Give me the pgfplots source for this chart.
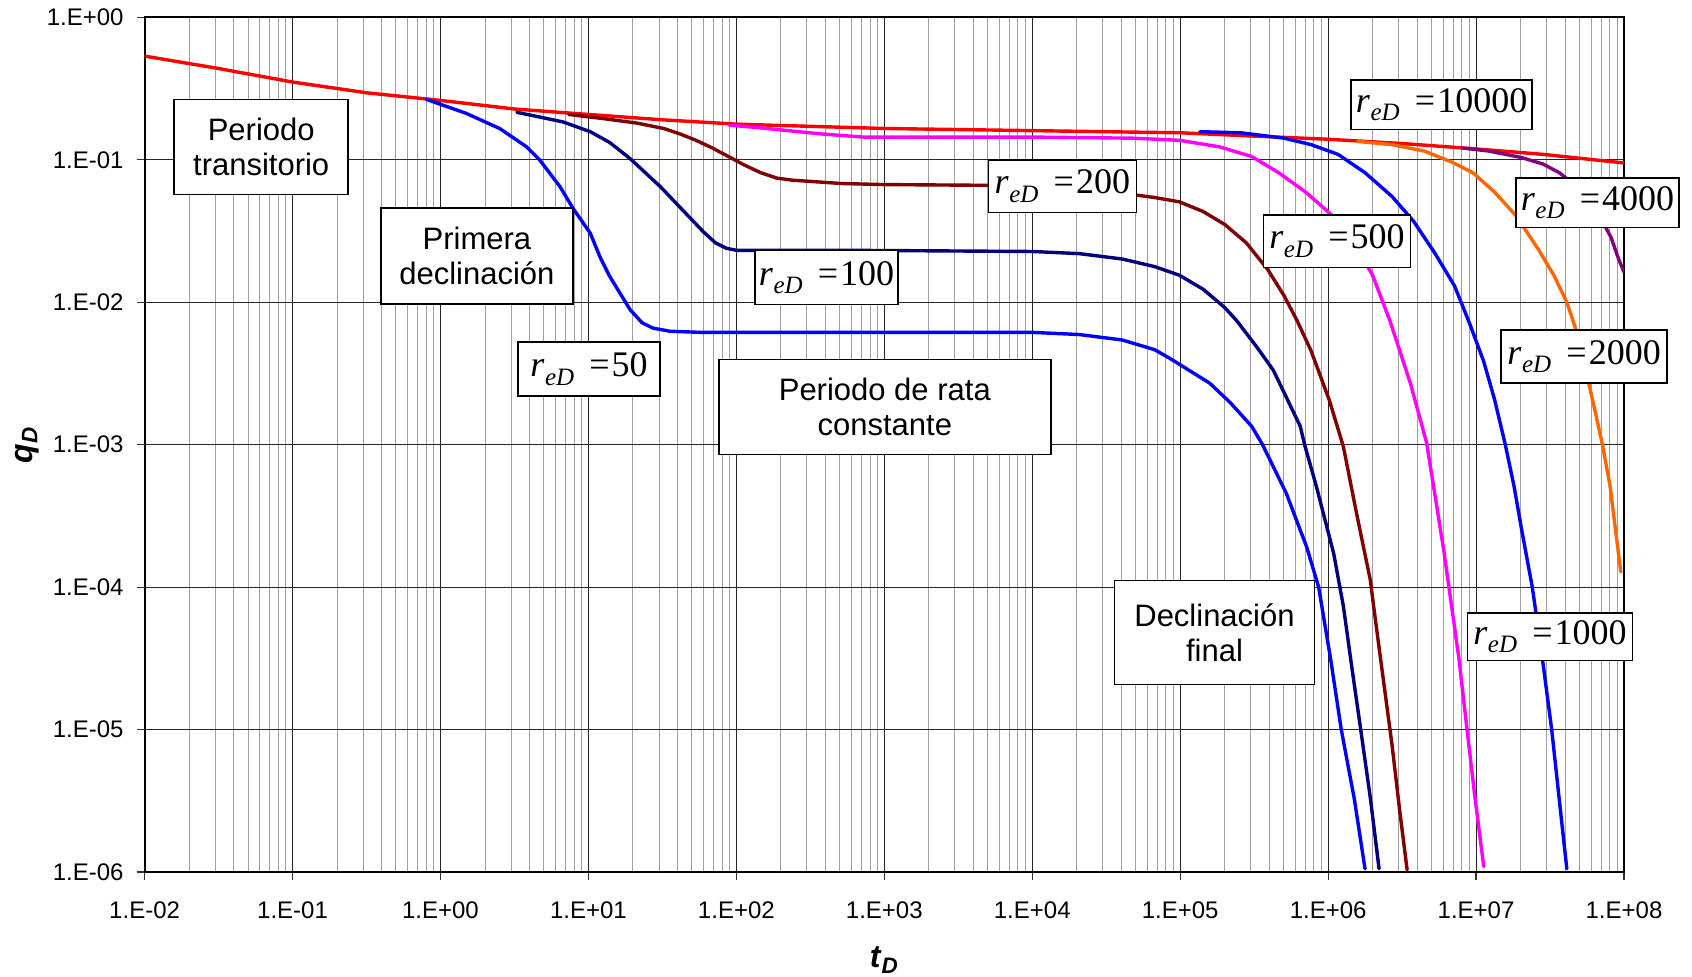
\documentclass[border=0pt]{standalone}
\usepackage{fontspec}
\setmainfont{Liberation Sans}
\newfontfamily\tnr{Liberation Serif}
\usepackage{pgfplots}
\pgfplotsset{compat=1.18}
\definecolor{cred}{RGB}{255,0,0}
\definecolor{cblue}{RGB}{0,0,255}
\definecolor{cnavy}{RGB}{0,0,128}
\definecolor{cbrown}{RGB}{128,0,0}
\definecolor{cmag}{RGB}{255,0,255}
\definecolor{corange}{RGB}{255,102,0}
\definecolor{cpurple}{RGB}{128,0,128}
\newcommand{\reD}[1]{{\tnr\fontsize{18}{20}\selectfont\textit{r}\kern0.3pt\raisebox{-0.5ex}{\fontsize{12.5}{13}\selectfont\textit{eD}}\hspace{0.42em}=\hspace{0.06em}#1}}
\tikzset{
  lbl/.style={draw=black,line width=0.8pt,fill=white,inner sep=2pt,align=center,font=\fontsize{15.5}{17.5}\selectfont},
  mlbl/.style={draw=black,line width=0.8pt,fill=white,inner sep=2pt,align=center},
  crv/.style={line width=1.7pt, line join=round, line cap=round}
}
\begin{document}
\begin{tikzpicture}
\begin{axis}[
  scale only axis,
  width=739.7pt, height=427.35pt,
  xmode=log, ymode=log,
  xmin=1e-2, xmax=1e8, ymin=1e-6, ymax=1,
  xtick={1e-2,1e-1,1,1e1,1e2,1e3,1e4,1e5,1e6,1e7,1e8},
  xticklabels={1.E-02,1.E-01,1.E+00,1.E+01,1.E+02,1.E+03,1.E+04,1.E+05,1.E+06,1.E+07,1.E+08},
  ytick={1e-6,1e-5,1e-4,1e-3,1e-2,1e-1,1},
  yticklabels={1.E-06,1.E-05,1.E-04,1.E-03,1.E-02,1.E-01,1.E+00},
  minor xtick={2e-2,3e-2,4e-2,5e-2,6e-2,7e-2,8e-2,9e-2,
    2e-1,3e-1,4e-1,5e-1,6e-1,7e-1,8e-1,9e-1,
    2,3,4,5,6,7,8,9,
    2e1,3e1,4e1,5e1,6e1,7e1,8e1,9e1,
    2e2,3e2,4e2,5e2,6e2,7e2,8e2,9e2,
    2e3,3e3,4e3,5e3,6e3,7e3,8e3,9e3,
    2e4,3e4,4e4,5e4,6e4,7e4,8e4,9e4,
    2e5,3e5,4e5,5e5,6e5,7e5,8e5,9e5,
    2e6,3e6,4e6,5e6,6e6,7e6,8e6,9e6,
    2e7,3e7,4e7,5e7,6e7,7e7,8e7,9e7},
  minor ytick={},
  xmajorgrids, xminorgrids, ymajorgrids,
  major grid style={black!85, line width=0.5pt},
  minor grid style={gray!75, line width=0.45pt},
  axis line style={black, line width=1pt},
  tick align=outside,
  major tick length=4pt, minor tick length=0pt,
  tick style={black!80, line width=0.6pt},
  xtick pos=left, ytick pos=left,
  ticklabel style={font=\fontsize{12}{14}\selectfont},
  xticklabel style={yshift=-7.5pt},
  yticklabel style={xshift=-3pt},
  xlabel={\textbf{\textit{t}\textsubscript{\textit{D}}}},
  ylabel={\textbf{\textit{q}\textsubscript{\textit{D}}}},
  xlabel style={font=\fontsize{16}{18}\selectfont, at={(axis description cs:0.5,-0.103)}, anchor=center},
  ylabel style={font=\fontsize{16}{18}\selectfont, at={(axis description cs:-0.0795,0.5)}, anchor=center},
  clip mode=individual,
]
% r_eD = 10000 (infinite-acting)
\addplot[cred, crv] coordinates {
(0.01,0.534) (0.0303,0.4405) (0.1,0.3512) (0.318,0.2949) (1,0.261) (3.175,0.227)
(10,0.208) (31.7,0.1907) (100,0.1778) (311,0.1717) (1000,0.1658) (1e4,0.1601)
(1e5,0.1546) (3.045e5,0.1468) (1e6,0.1393) (3.197e6,0.1299) (1e7,0.1191)
(2.84e7,0.1091) (1e8,0.0949)};
% r_eD = 50
\addplot[cblue, crv] coordinates {
(0.801,0.2656) (1.491,0.2118) (2.51,0.1658) (3.82,0.1233) (4.673,0.1)
(6.43,0.06467) (7.865,0.04561) (10.29,0.03053) (11.97,0.0208) (13.92,0.0152)
(19.15,0.00885) (23.04,0.00718) (27.25,0.00658) (35.66,0.00625) (58.02,0.00614)
(134.4,0.00614) (1e4,0.00614) (2.073e4,0.00593) (4.058e4,0.00543) (6.716e4,0.004642)
(8.5e4,0.004037) (1.582e5,0.002703) (2.177e5,0.001975) (3.045e5,0.001345)
(3.602e5,0.001) (5.212e5,4.561e-4) (7.171e5,1.907e-4) (8.626e5,1e-4)
(1.038e6,3.162e-5) (1.227e6,1e-5) (1.502e6,3.275e-6) (1.776e6,1.054e-6)};
% r_eD = 100
\addplot[cnavy, crv] coordinates {
(3.284,0.2154) (6.763,0.1841) (10.29,0.1574) (13.92,0.1322) (19.15,0.1018)
(30.66,0.06467) (42.9,0.04482) (60.02,0.0311) (72.2,0.0261) (85.4,0.02392)
(101,0.0231) (720.6,0.0231) (1e4,0.0227) (2.073e4,0.02193) (4.058e4,0.0201)
(6.716e4,0.01778) (9.88e4,0.01546) (1.43e5,0.01233) (2.001e5,0.009165)
(2.407e5,0.007433) (3.313e5,0.00481) (4.261e5,0.003332) (5.3e5,0.00208)
(6.482e5,0.001345) (6.934e5,0.001) (8.341e5,5.065e-4) (1.091e6,1.717e-4)
(1.269e6,7.304e-5) (1.452e6,2.656e-5) (1.661e6,1e-5) (1.932e6,3.275e-6)
(2.21e6,1.054e-6)};
% r_eD = 200
\addplot[cbrown, crv] coordinates {
(7.355,0.208) (12.8,0.1941) (21.18,0.181) (32.24,0.1658) (41.47,0.152)
(53.37,0.1369) (68.64,0.1211) (88.31,0.1054) (113.6,0.09165) (146.1,0.0811)
(188,0.0743) (241.9,0.0718) (311,0.07055) (515.2,0.0681) (992,0.06695)
(1e4,0.0658) (2.073e4,0.06245) (4.058e4,0.05823) (6.716e4,0.0543) (9.88e4,0.05065)
(1.43e5,0.04329) (2.001e5,0.03512) (2.8e5,0.0261) (3.917e5,0.01688)
(5.039e5,0.0111) (6.163e5,0.007433) (7.669e5,0.004561) (1.02e6,0.002045)
(1.269e6,9.656e-4) (1.553e6,3.332e-4) (1.932e6,1.11e-4) (2.032e6,7.304e-5)
(2.285e6,2.898e-5) (2.703e6,7.832e-6) (3.04e6,2.75e-6) (3.42e6,1.036e-6)};
% r_eD = 500
\addplot[cmag, crv] coordinates {
(89.8,0.1747) (134.4,0.1688) (263.1,0.1574) (368.1,0.152) (720.6,0.1443)
(1e4,0.1443) (4.8e4,0.1417) (9.88e4,0.1369) (1.84e5,0.1233) (3.045e5,0.1054)
(4.634e5,0.0811) (7.05e5,0.0593) (1.073e6,0.0404) (1.502e6,0.0261)
(1.998e6,0.01546) (2.614e6,0.007433) (3.596e6,0.002703)
(4.626e6,0.001036) (5.292e6,4.329e-4) (6.051e6,1.81e-4) (6.808e6,7.566e-5)
(7.656e6,3.162e-5) (8.758e6,9.326e-6) (9.85e6,3.275e-6) (1.127e7,1.091e-6)};
% r_eD = 1000
\addplot[cblue, crv] coordinates {
(1.36e5,0.1574) (2.574e5,0.1546) (5.039e5,0.1417) (7.669e5,0.1277)
(1.167e6,0.1091) (1.776e6,0.0811) (2.703e6,0.05525) (3.782e6,0.037)
(5.292e6,0.02193) (7.16e6,0.01299) (9.058e6,0.007055) (1.127e7,0.003831)
(1.333e7,0.00208) (1.576e7,0.001) (1.803e7,5.153e-4) (2.028e7,2.566e-4)
(2.399e7,1e-4) (2.744e7,3.765e-5) (3.245e7,1e-5) (3.713e7,2.75e-6)
(4.106e7,1.054e-6)};
% r_eD = 2000
\addplot[corange, crv] coordinates {
(1.579e6,0.1345) (2.703e6,0.1277) (4.473e6,0.115) (6.808e6,0.0966)
(9.524e6,0.0811) (1.333e7,0.0593) (1.865e7,0.0404) (2.609e7,0.02392)
(3.356e7,0.01546) (4.106e7,0.01) (4.859e7,0.00593) (5.555e7,0.00322)
(6.356e7,0.001747) (7.148e7,0.001) (8.04e7,5.153e-4) (8.744e7,2.566e-4)
(9.508e7,1.277e-4)};
% r_eD = 4000
\addplot[cpurple, crv] coordinates {
(8.05e6,0.1211) (1.226e7,0.115) (2.028e7,0.1036) (2.84e7,0.09326)
(3.651e7,0.0811) (4.542e7,0.0681) (5.555e7,0.05245) (7.148e7,0.037)
(8.176e7,0.02848) (9.194e7,0.0201) (1e8,0.0163)};
% text boxes
\node[lbl, minimum width=87pt, minimum height=47.5pt] at (axis cs:0.0614,0.123) {Periodo\\transitorio};
\node[lbl, minimum width=96pt, minimum height=48pt] at (axis cs:1.764,0.0210) {Primera\\declinación};
\node[lbl, minimum width=166pt, minimum height=47.5pt] at (axis cs:1008,0.00184) {Periodo de rata\\constante};
\node[lbl, minimum width=100pt, minimum height=52pt] at (axis cs:1.706e5,4.8e-5) {Declinación\\final};
\node[mlbl, minimum width=71pt, minimum height=27pt] at (axis cs:10.1,3.39e-3) {\reD{50}};
\node[mlbl, minimum width=70pt, minimum height=27pt] at (axis cs:407,0.01494) {\reD{100}};
\node[mlbl, minimum width=74pt, minimum height=26.4pt] at (axis cs:1.598e4,0.0652) {\reD{200}};
\node[mlbl, minimum width=73.4pt, minimum height=26.4pt] at (axis cs:1.148e6,0.0268) {\reD{500}};
\node[mlbl, minimum width=90.6pt, minimum height=24.8pt] at (axis cs:5.85e6,0.2434) {\reD{10000}};
\node[mlbl, minimum width=81.5pt, minimum height=24.8pt] at (axis cs:6.62e7,0.0498) {\reD{4000}};
\node[mlbl, minimum width=83pt, minimum height=26.4pt] at (axis cs:5.37e7,4.145e-3) {\reD{2000}};
\node[mlbl, minimum width=82.5pt, minimum height=23.7pt] at (axis cs:3.16e7,4.48e-5) {\reD{1000}};
\end{axis}
\pgfresetboundingbox
\useasboundingbox ([xshift=-72.3pt,yshift=-52.5pt]current axis.south west) rectangle ([xshift=34pt,yshift=8.65pt]current axis.north east);
\end{tikzpicture}
\end{document}
